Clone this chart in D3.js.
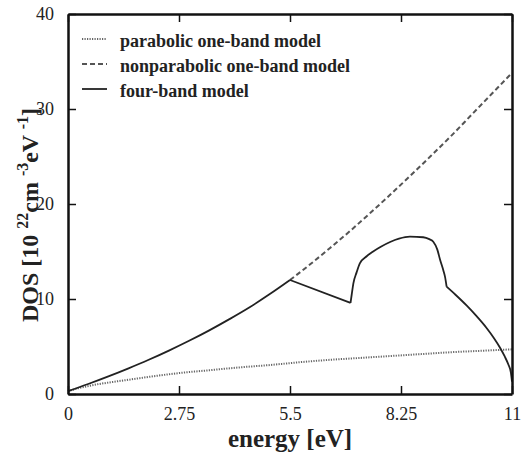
<!DOCTYPE html>
<html>
<head>
<meta charset="utf-8">
<script src="https://cdn.jsdelivr.net/npm/d3@7"></script>
<style>
  body { margin: 0; background: #fff; }
  svg text { font-family: "Liberation Serif", "Times New Roman", Times, Tinos, "Nimbus Roman", "DejaVu Serif", "Noto Serif", serif; }
</style>
</head>
<body>
<div class="chart"></div>
<script>
// values (energy in eV, DOS in 10^22 cm^-3 eV^-1)
const xTicks = [0, 2.75, 5.5, 8.25, 11]
const xTickLabels = ["0", "2.75", "5.5", "8.25", "11"]
const yTicks = [0, 10, 20, 30, 40]

const parabolicE = [0, 0.25, 0.63, 1, 1.5, 2, 2.75, 3.5, 4.25, 5, 5.75, 6.5, 7.25, 8, 8.75, 9.5, 10.25, 11]
const parabolicDos = [0.3, 0.6, 0.95, 1.2, 1.5, 1.8, 2.2, 2.5, 2.8, 3.05, 3.35, 3.6, 3.8, 4.0, 4.2, 4.4, 4.55, 4.7]

const nonparabolicE = [5.5, 6, 6.5, 7, 7.5, 8, 8.5, 9, 9.5, 10, 10.5, 11]
const nonparabolicDos = [12.0, 13.65, 15.4, 17.2, 19.1, 21.05, 23.05, 25.1, 27.2, 29.4, 31.6, 33.8]

const fourBandE = [0, 0.5, 1, 1.5, 2, 2.5, 3, 3.5, 4, 4.5, 5, 5.5, 7.0, 7.03, 7.07, 7.15, 7.23, 7.4, 7.56, 7.75, 7.98, 8.2, 8.47, 8.8, 8.95, 9.05, 9.15, 9.22, 9.3, 9.34, 9.38, 9.6, 9.88, 10.1, 10.37, 10.55, 10.7, 10.82, 10.91, 10.97, 11]
const fourBandDos = [0.3, 1.05, 1.85, 2.7, 3.6, 4.57, 5.6, 6.7, 7.88, 9.13, 10.52, 12.0, 9.6, 10.5, 11.65, 12.8, 13.76, 14.5, 15.0, 15.5, 16.0, 16.35, 16.56, 16.5, 16.3, 16.03, 15.2, 14.1, 13.0, 12.35, 11.3, 10.45, 9.3, 8.3, 6.95, 5.9, 4.9, 3.95, 3.1, 2.3, 1.3]
// kinks of the four-band curve (band edges)
const fourBandKinks = [5.5, 7.0, 9.38]

const legendLabels = ["parabolic one-band model", "nonparabolic one-band model", "four-band model"]

const width = 521, height = 457
const margin = { top: 14, right: 9, bottom: 63, left: 68 }

const svg = d3.select(".chart").append("svg")
    .attr("width", width)
    .attr("height", height)

const x = d3.scaleLinear().domain([0, 11]).range([margin.left, width - margin.right])
const y = d3.scaleLinear().domain([0, 40]).range([height - margin.bottom, margin.top])

const zip = (a, b) => a.map((d, i) => [d, b[i]])
const line = d3.line().x(d => x(d[0])).y(d => y(d[1])).curve(d3.curveMonotoneX)

// curves
svg.append("path")
    .datum(zip(parabolicE, parabolicDos))
    .attr("d", line)
    .attr("fill", "none")
    .attr("stroke", "#666")
    .attr("stroke-width", 2)
    .attr("stroke-dasharray", "1.2,1.3")

svg.append("path")
    .datum(zip(nonparabolicE, nonparabolicDos))
    .attr("d", line)
    .attr("fill", "none")
    .attr("stroke", "#555")
    .attr("stroke-width", 2)
    .attr("stroke-dasharray", "5,3")

// four-band: smooth pieces joined at the kinks
const fourBand = zip(fourBandE, fourBandDos)
const bounds = [0, ...fourBandKinks, 11]
const pieces = d3.pairs(bounds).map(([a, b]) => fourBand.filter(d => d[0] >= a && d[0] <= b))
svg.append("path")
    .attr("d", pieces.map(p => line(p)).join(""))
    .attr("fill", "none")
    .attr("stroke", "#222")
    .attr("stroke-width", 1.8)
    .attr("stroke-linejoin", "round")

// axes, ticks pointing inward on all four sides
const axisFont = g => g.selectAll("text")
    .attr("font-size", 18)
    .attr("fill", "#222")

svg.append("g")
    .attr("transform", `translate(0,${y(0)})`)
    .call(d3.axisBottom(x).tickValues(xTicks).tickFormat((d, i) => xTickLabels[i])
        .tickSizeInner(-8).tickSizeOuter(0).tickPadding(13))
    .call(axisFont)

svg.append("g")
    .attr("transform", `translate(0,${y(40)})`)
    .call(d3.axisTop(x).tickValues(xTicks).tickFormat("").tickSizeInner(-8).tickSizeOuter(0))

svg.append("g")
    .attr("transform", `translate(${x(0)},0)`)
    .call(d3.axisLeft(y).tickValues(yTicks).tickSizeInner(-8).tickSizeOuter(0).tickPadding(14))
    .call(axisFont)

svg.append("g")
    .attr("transform", `translate(${x(11)},0)`)
    .call(d3.axisRight(y).tickValues(yTicks).tickFormat("").tickSizeInner(-8).tickSizeOuter(0))

svg.selectAll("g").attr("font-family", null)
svg.selectAll(".domain").attr("stroke", "#111").attr("stroke-width", 2.5)
svg.selectAll(".tick line").attr("stroke", "#111").attr("stroke-width", 1.5)

// axis titles
svg.append("text")
    .attr("x", (x(0) + x(11)) / 2)
    .attr("y", 447)
    .attr("text-anchor", "middle")
    .attr("font-size", 25)
    .attr("font-weight", "bold")
    .attr("fill", "#222")
    .text("energy [eV]")

const yTitle = svg.append("text")
    .attr("transform", `translate(38,${(y(0) + y(40)) / 2 + 11}) rotate(-90)`)
    .attr("text-anchor", "middle")
    .attr("font-size", 24)
    .attr("font-weight", "bold")
    .attr("fill", "#222")
yTitle.append("tspan").text("DOS [10 ")
yTitle.append("tspan").attr("dy", -10).attr("font-size", 16).text("22")
yTitle.append("tspan").attr("dy", 10).text("cm ")
yTitle.append("tspan").attr("dy", -10).attr("font-size", 16).text("-3")
yTitle.append("tspan").attr("dy", 10).text("eV ")
yTitle.append("tspan").attr("dy", -10).attr("font-size", 16).text("-1")
yTitle.append("tspan").attr("dy", 10).text("]")

// legend
const legendDash = ["1.2,1.3", "5,3", null]
const legendColor = ["#666", "#555", "#222"]
const legend = svg.append("g")
legendLabels.forEach((label, i) => {
    const ly = 47 + i * 25
    legend.append("line")
        .attr("x1", 82).attr("x2", 107)
        .attr("y1", ly - 8).attr("y2", ly - 8)
        .attr("stroke", legendColor[i])
        .attr("stroke-width", i === 2 ? 1.8 : 2)
        .attr("stroke-dasharray", legendDash[i])
    legend.append("text")
        .attr("x", 120).attr("y", ly)
        .attr("font-size", 18)
        .attr("font-weight", "bold")
        .attr("fill", "#222")
        .text(label)
})
</script>
</body>
</html>
